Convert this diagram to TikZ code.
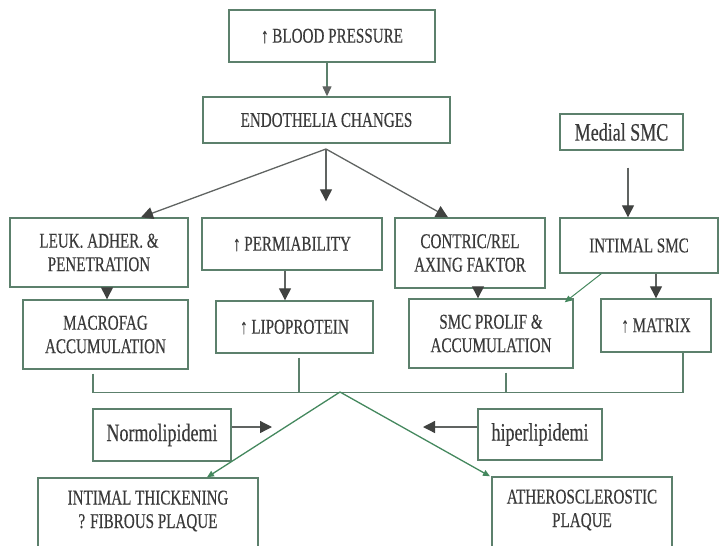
\documentclass[tikz,border=0pt]{standalone}
\usepackage{fontspec}
\setmainfont[FakeStretch=0.72, FakeBold=0.35]{Liberation Serif}
\usetikzlibrary{arrows.meta}
\definecolor{boxcol}{RGB}{92,128,108}
\definecolor{linecol}{RGB}{96,100,98}
\definecolor{tipcol}{RGB}{64,66,64}
\definecolor{greencol}{RGB}{68,136,94}
\definecolor{textcol}{RGB}{58,58,58}
\newcommand\capslabel{\fontsize{21}{23.5}\selectfont}
\newcommand\smalllabel{\fontsize{25}{28}\selectfont}
\begin{document}
\begin{tikzpicture}[x=1pt,y=-1pt,
  box/.style={draw=boxcol, line width=1.4pt, inner sep=0pt, align=center,
              text=textcol, font=\capslabel},
  lbox/.style={box, font=\smalllabel},
  darr/.style={draw=linecol, line width=1.3pt,
               -{Triangle[length=12pt,width=12pt,color=tipcol]}},
  garr/.style={draw=greencol, line width=1.3pt,
               -{Triangle[length=7pt,width=6pt]}},
  link/.style={draw=boxcol, line width=1.2pt}]
\useasboundingbox (0,0) rectangle (720,546);
\clip (0,0) rectangle (720,546);

% top of the chain
\node[box, minimum width=206pt, minimum height=52pt] (bp) at (332,36) {↑ BLOOD PRESSURE};
\node[box, minimum width=247pt, minimum height=46pt] (endo) at (326.5,120) {ENDOTHELIA CHANGES};
\node[lbox, minimum width=123pt, minimum height=36pt] (medial) at (621.5,132) {Medial SMC};

% first row of effects
\node[box, minimum width=178pt, minimum height=69pt] (leuk) at (99,252.5) {LEUK. ADHER. \&\\PENETRATION};
\node[box, minimum width=180pt, minimum height=52pt] (perm) at (292,244) {↑ PERMIABILITY};
\node[box, minimum width=150pt, minimum height=70pt] (contric) at (470,253) {CONTRIC/REL\\AXING FAKTOR};
\node[box, minimum width=158pt, minimum height=55pt] (intimal) at (639,245.5) {INTIMAL SMC};

% second row
\node[box, minimum width=165pt, minimum height=69pt] (macro) at (105.5,334.5) {MACROFAG\\ACCUMULATION};
\node[box, minimum width=157pt, minimum height=52pt] (lipo) at (294.5,327) {↑ LIPOPROTEIN};
\node[box, minimum width=164pt, minimum height=69pt] (smc) at (491,333.5) {SMC PROLIF \&\\ACCUMULATION};
\node[box, minimum width=110pt, minimum height=53pt] (matrix) at (656,325.5) {↑ MATRIX};

% modifiers and outcomes
\node[lbox, minimum width=138pt, minimum height=52pt] (normo) at (162,435) {Normolipidemi};
\node[lbox, minimum width=124pt, minimum height=51pt] (hiper) at (540,434.5) {hiperlipidemi};
\node[box, minimum width=220pt, minimum height=90pt,
      label={[text=textcol, font=\capslabel, align=center, yshift=12pt]center:INTIMAL THICKENING\\? FIBROUS PLAQUE}]
      (intth) at (148,523) {};
\node[box, minimum width=180pt, minimum height=90pt,
      label={[text=textcol, font=\capslabel, align=center, yshift=12pt]center:ATHEROSCLEROSTIC\\PLAQUE}]
      (athero) at (582,522) {};

% connectors
\draw[darr, draw=boxcol, -{Triangle[length=10pt,width=9pt,color=linecol]}]
  ([xshift=-5pt]bp.south) -- ([xshift=-5pt]bp.south |- endo.north);
\coordinate (apex) at (326,149);
\draw[darr] (apex) -- ([xshift=42pt]leuk.north);
\draw[darr, shorten >=16pt] (apex) -- (apex |- perm.north);
\draw[darr] (apex) -- ([xshift=-22pt]contric.north);
\draw[darr] ([xshift=6.5pt,yshift=-17pt]medial.south) -- ([xshift=-11pt]intimal.north);

\draw[darr] ([xshift=8pt]leuk.south) -- ([xshift=8pt]leuk.south |- macro.north);
\draw[darr] ([xshift=-7pt]perm.south) -- ([xshift=-7pt]perm.south |- lipo.north);
\draw[darr] ([xshift=8pt]contric.south) -- ([xshift=8pt]contric.south |- smc.north);
\draw[darr] ([xshift=17pt]intimal.south) -- ([xshift=17pt]intimal.south |- matrix.north);
\draw[garr, line width=1pt] ([xshift=42pt]intimal.south west) -- ([xshift=-9pt,yshift=-4pt]smc.north east);

% collecting bracket
\coordinate (jn) at (340,392);
\draw[link] ([xshift=-12.5pt,yshift=-4pt]macro.south) -- ++(0,19) -| ([xshift=27pt]matrix.south);
\draw[link] ([xshift=4.5pt,yshift=-4pt]lipo.south) -- ([xshift=4.5pt]lipo.south |- jn);
\draw[link] ([xshift=15pt,yshift=-4pt]smc.south) -- ([xshift=15pt]smc.south |- jn);
\draw[garr] (jn) -- ([xshift=59pt]intth.north);
\draw[garr] (jn) -- ([xshift=-92pt]athero.north);

% lipid state arrows
\coordinate (nl) at (272,427);
\coordinate (hl) at (423,427);
\draw[darr] ([yshift=8pt]normo.east) -- (nl);
\draw[darr] ([yshift=7.5pt]hiper.west) -- (hl);
\end{tikzpicture}
\end{document}
